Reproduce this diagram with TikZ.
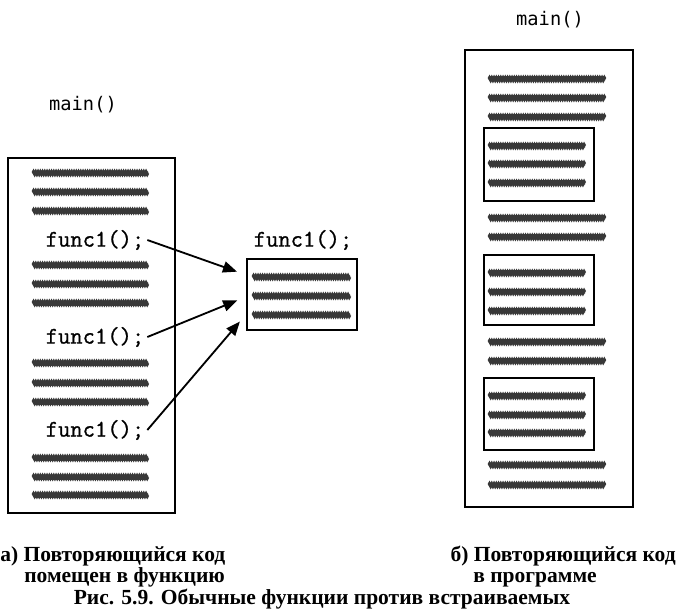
\documentclass[tikz,border=0pt]{standalone}
\usepackage{fontspec}
\setmainfont{Liberation Serif}
\newfontfamily\capfont{Liberation Serif}
\newfontfamily\callfont{Latin Modern Mono}[FakeBold=0.9]
\newfontfamily\titlefont{DejaVu Sans Mono}
\usepackage{tikz}
\usetikzlibrary{arrows.meta,fit,calc,decorations.pathmorphing}

\begin{document}
\begin{tikzpicture}[
  x=0.025cm, y=-0.025cm,
  every node/.style={inner sep=0pt},
  box/.style={draw, line width=1pt},
  scribble/.style={line width=2.4pt, black!78, decorate,
    decoration={zigzag, segment length=1.6pt, amplitude=0.7pt}},
  call/.style={font=\callfont\fontsize{17}{19}\selectfont},
  title/.style={font=\titlefont\fontsize{13.3}{15}\selectfont},
  caption/.style={font=\capfont\bfseries\fontsize{15.3}{15.3}\selectfont},
  arrow/.style={-{Triangle[length=10pt, width=8pt]}, line width=1.3pt, shorten >=7pt}
]
  \useasboundingbox (0,0) rectangle (676,612);

  % left: code with calls
  \node[title] (mainA) at (83,105) {main()};
  \node[box, fit={(8,158) (175,513)}] (progA) {};
  \foreach \y in {173,192,211,265,284,303,363,383,402,458,477,495}
    \draw[scribble] (33,\y) -- (148,\y);
  \node[call] (call1) at (95,240) {func1();};
  \node[call] (call2) at (95,337) {func1();};
  \node[call] (call3) at (95,430) {func1();};

  % middle: the function
  \node[call] (fname) at (303,240) {func1();};
  \node[box, fit={(247,259) (357,330)}] (fbox) {};
  \foreach \y in {277,296,315}
    \draw[scribble] (253,\y) -- (350,\y);

  \draw[arrow] ([xshift=2pt]call1.east) -- ($(fbox.north west)!0.23!(fbox.south west)$);
  \draw[arrow] ([xshift=2pt]call2.east) -- ($(fbox.north west)!0.53!(fbox.south west)$);
  \draw[arrow] ([xshift=2pt]call3.east) -- ($(fbox.north west)!0.77!(fbox.south west)$);

  % right: inline code
  \node[title] (mainB) at (550,20) {main()};
  \node[box, fit={(465,50) (633,507)}] (progB) {};
  \node[box, fit={(484,128) (594,201)}] (inl1) {};
  \node[box, fit={(484,255) (594,325)}] (inl2) {};
  \node[box, fit={(484,378) (594,450)}] (inl3) {};
  \foreach \y in {79,98,117,218,237,342,361,465,485}
    \draw[scribble] (489,\y) -- (605,\y);
  \foreach \y in {146,164,183,273,292,311,396,415,433}
    \draw[scribble] (489,\y) -- (585,\y);

  % captions
  \node[caption, anchor=base west] (capA1) at (0,561) {а) Повторяющийся код};
  \node[caption, anchor=base west] (capA2) at (24,582) {помещен в функцию};
  \node[caption, anchor=base east] (capB1) at (676,561) {б) Повторяющийся код};
  \node[caption, anchor=base west] (capB2) at (473,582) {в программе};
  \node[caption, anchor=base] (fig) at (322,604) {Рис. 5.9. Обычные функции против встраиваемых};
\end{tikzpicture}
\end{document}
